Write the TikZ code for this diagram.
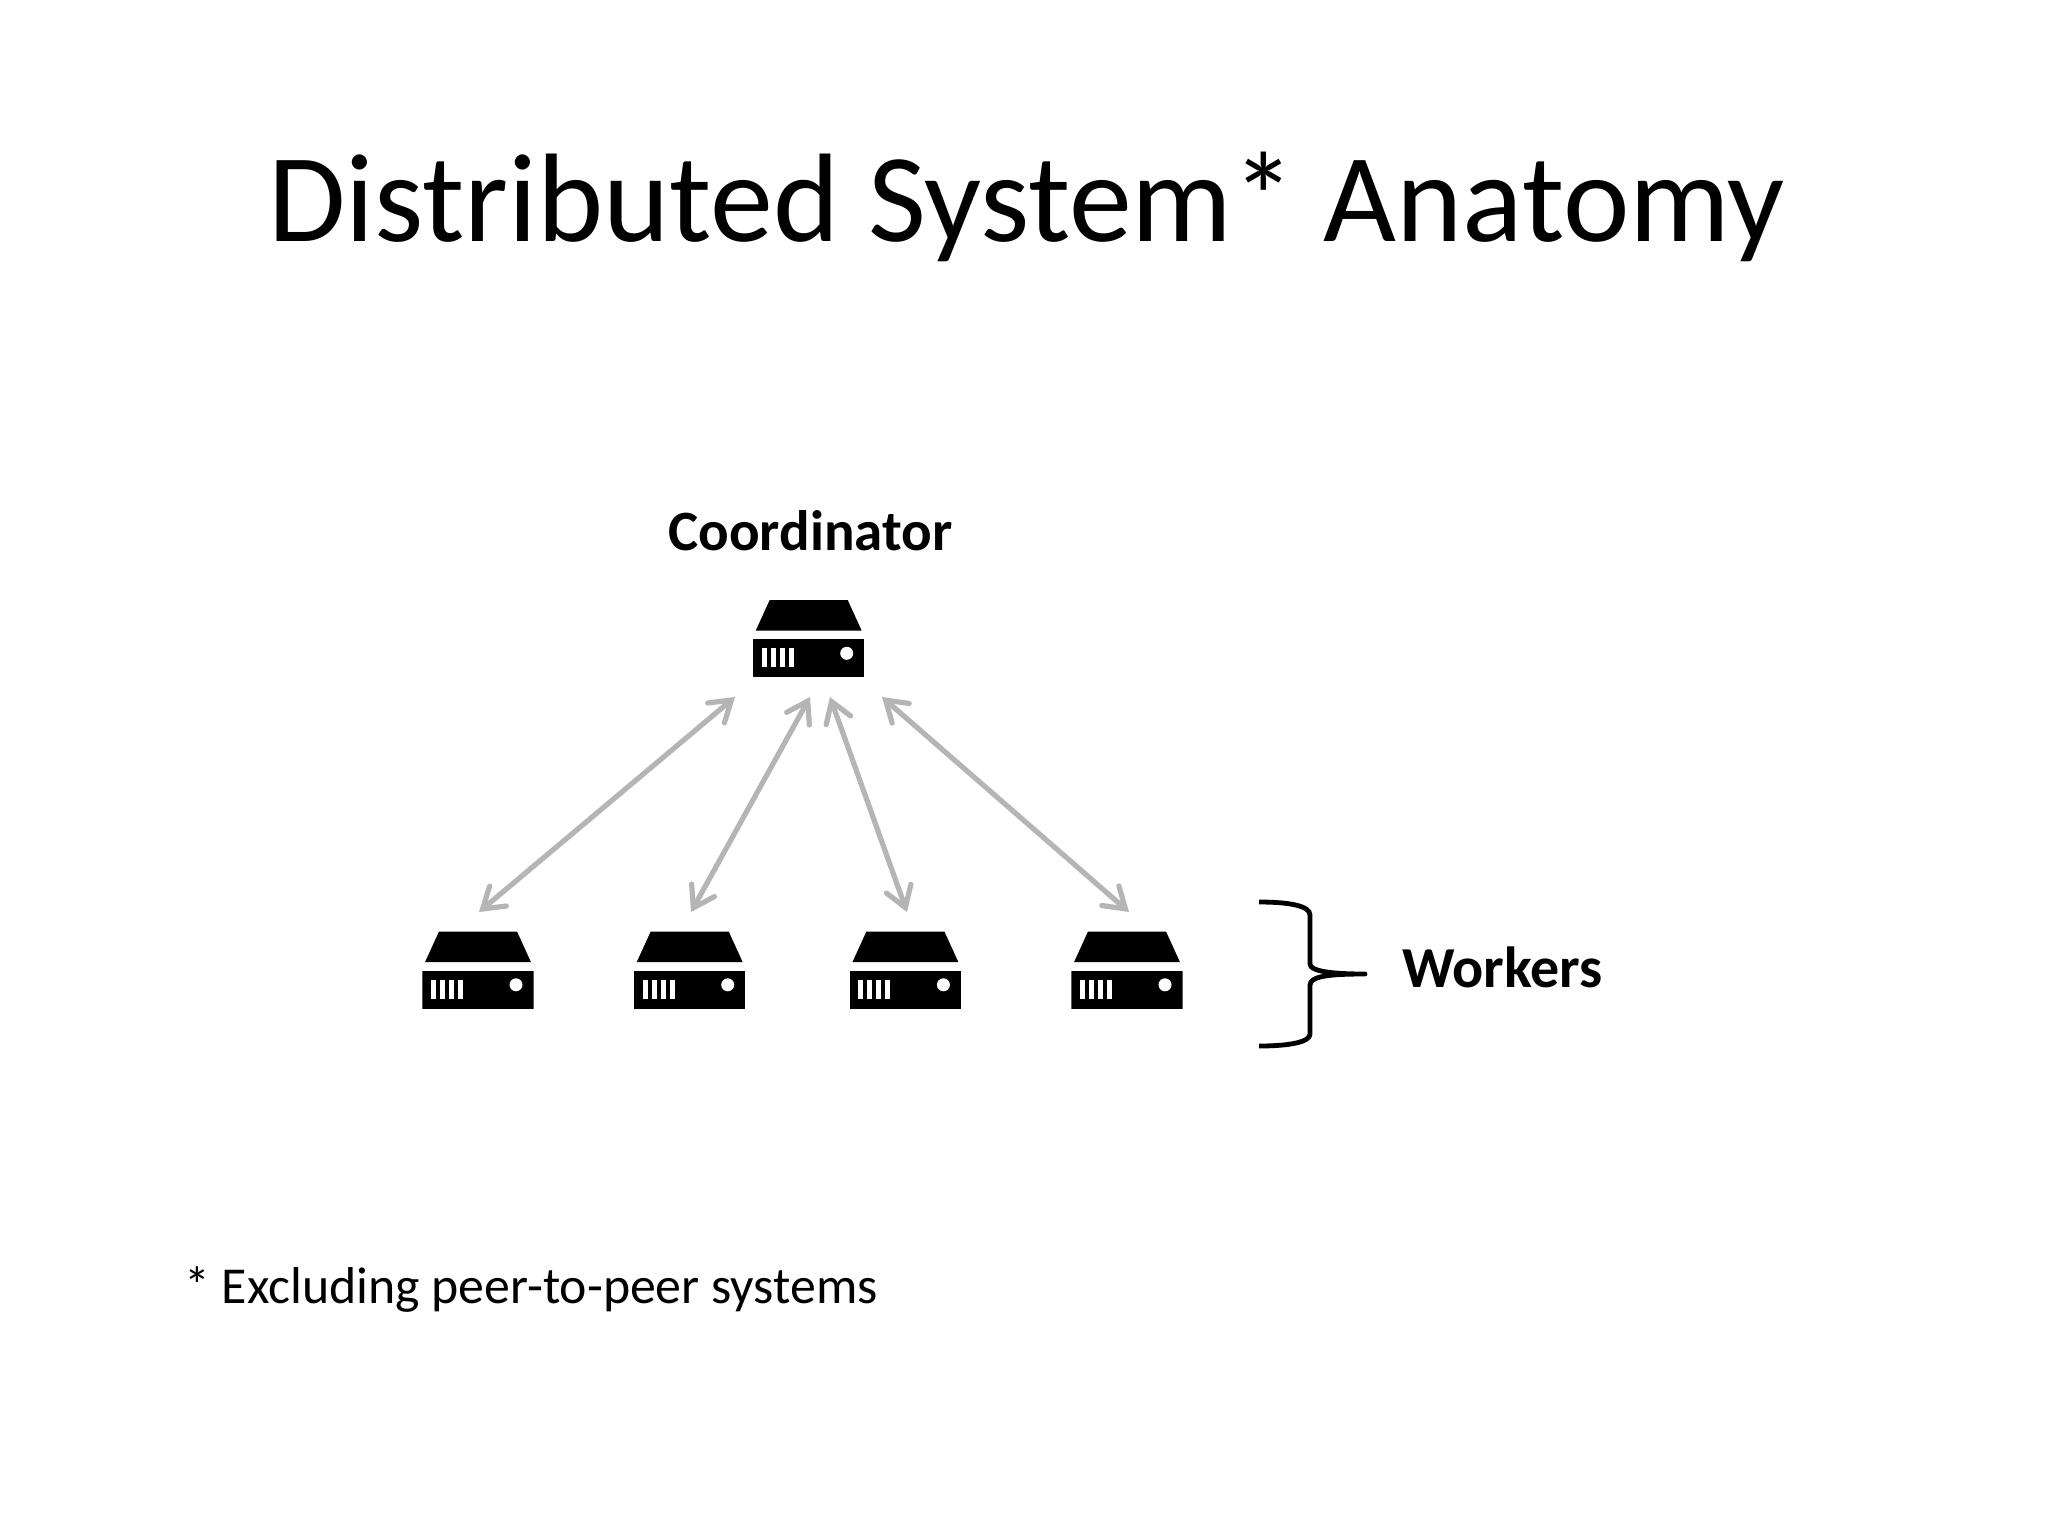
\documentclass[tikz,border=0pt]{standalone}
\usepackage{fontspec}
\setmainfont{Carlito}
\usetikzlibrary{arrows.meta}
\tikzset{
  x=0.5pt,y=-0.5pt,
  servericon/.style={inner sep=0pt,outer sep=0pt,minimum width=55.6pt,minimum height=38.5pt,
    path picture={
      \begin{scope}[shift={(path picture bounding box.center)}]
        \fill[black] (-39,-38.5) -- (39,-38.5) -- (53,-7.8) -- (-53,-7.8) -- cycle;
        \fill[black] (-55.6,0.5) rectangle (55.6,38.5);
        \fill[white] (-47,9.8) rectangle (-42,28.8);
        \fill[white] (-38,9.8) rectangle (-33,28.8);
        \fill[white] (-29,9.8) rectangle (-24,28.8);
        \fill[white] (-20,9.8) rectangle (-15,28.8);
        \fill[white] (38,14.8) circle (6.5);
      \end{scope}}},
  link/.style={draw=linkgray,line width=2.6pt,{Straight Barb[length=10pt,width=13pt,line cap=round]}-{Straight Barb[length=10pt,width=13pt,line cap=round]}},
  lbl/.style={inner sep=0pt,anchor=base west,text=black},
}
\definecolor{linkgray}{HTML}{B5B5B5}
\begin{document}
\begin{tikzpicture}
\useasboundingbox (0,0) rectangle (2048,1536);
\fill[white] (0,0) rectangle (2048,1536);
\node[lbl,font=\fontsize{63}{68}\selectfont] (title) at (268,241) {Distributed System* Anatomy};
\node[lbl,font=\fontsize{28.5}{32}\selectfont\bfseries] (coordlabel) at (668,550.5) {Coordinator};
\node[lbl,font=\fontsize{29}{33}\selectfont\bfseries] (workerslabel) at (1402,987.5) {Workers};
\node[lbl,font=\fontsize{25.9}{30}\selectfont] (foot) at (184,1303) {* Excluding peer-to-peer systems};
\node[servericon] (c) at (808.7,638.5) {};
\node[servericon] (w1) at (478,970) {};
\node[servericon] (w2) at (689.7,970) {};
\node[servericon] (w3) at (905.4,970) {};
\node[servericon] (w4) at (1127,970) {};
\coordinate (t1) at (735,697);
\coordinate (t2) at (810,697);
\coordinate (t3) at (830,697);
\coordinate (t4) at (882,697);
\coordinate (b1) at (479,912);
\coordinate (b2) at (691,912);
\coordinate (b3) at (907,912);
\coordinate (b4) at (1129,912);
\draw[link] (t1) -- (b1);
\draw[link] (t2) -- (b2);
\draw[link] (t3) -- (b3);
\draw[link] (t4) -- (b4);
\draw[black,line width=2.4pt,line join=round] (1259,902) .. controls (1290,902) and (1310,906) .. (1310,915) -- (1310,964) .. controls (1310,971) and (1330,974) .. (1365,974) .. controls (1330,974) and (1310,976) .. (1310,985) -- (1310,1034) .. controls (1310,1042) and (1290,1046) .. (1259,1046);
\end{tikzpicture}
\end{document}
